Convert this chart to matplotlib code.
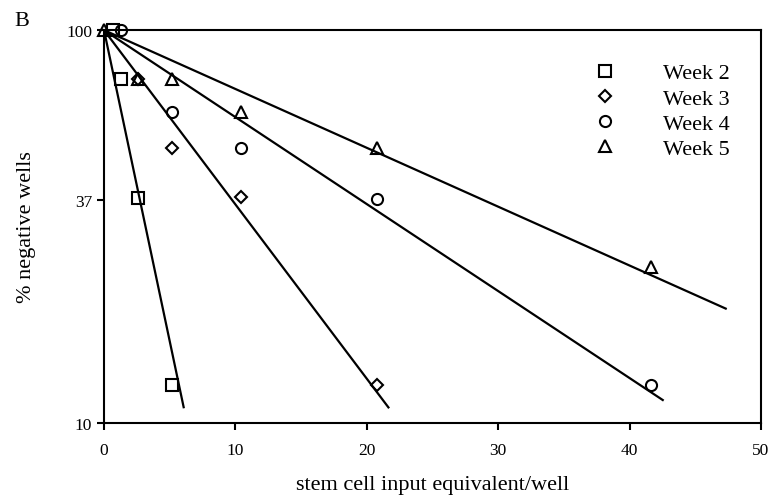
import matplotlib
matplotlib.use("Agg")
import matplotlib.pyplot as plt

plt.rcParams['font.family'] = ['Liberation Serif', 'DejaVu Serif']

# data
labels = ["Week 2", "Week 3", "Week 4", "Week 5"]
markers = ["s", "D", "o", "^"]
x_week2 = [0.65, 1.3, 2.6, 5.2]
y_week2 = [100, 75, 37.4, 12.5]
x_week3 = [2.6, 5.2, 10.4, 20.8]
y_week3 = [75, 50, 37.5, 12.5]
x_week4 = [1.3, 5.2, 10.4, 20.8, 41.6]
y_week4 = [100, 62, 50, 37.2, 12.5]
x_week5 = [0, 2.6, 5.2, 10.4, 20.8, 41.6]
y_week5 = [100, 75, 75, 62, 50, 25]
# fitted lines: start at (0, 100), end points
line_end_x = [6.08, 21.7, 42.6, 47.4]
line_end_y = [10.9, 10.9, 11.4, 19.5]
xticks = [0, 10, 20, 30, 40, 50]
yticks = [10, 37, 100]

xs = [x_week2, x_week3, x_week4, x_week5]
ys = [y_week2, y_week3, y_week4, y_week5]
msizes = [8, 6.5, 8, 8]

fig = plt.figure(figsize=(7.78, 5.02), dpi=100)
ax = fig.add_axes([0.1337, 0.1554, 0.978 - 0.1337, 0.938 - 0.1554])
ax.set_yscale('log')

for i in range(4):
    ax.plot([0, line_end_x[i]], [100, line_end_y[i]], color='black', lw=1.6,
            solid_capstyle='butt', zorder=2)

handles = []
for i in range(4):
    h, = ax.plot(xs[i], ys[i], linestyle='none', marker=markers[i],
                 markersize=msizes[i], markerfacecolor='none',
                 markeredgecolor='black', markeredgewidth=1.5,
                 clip_on=False, zorder=3, label=labels[i])
    handles.append(h)

ax.set_xlim(0, 50)
ax.set_ylim(10, 100)
ax.set_xticks(xticks)
ax.set_xticklabels([str(t) for t in xticks])
ax.set_yticks(yticks)
ax.set_yticklabels([str(t) for t in yticks])
ax.yaxis.set_minor_locator(matplotlib.ticker.NullLocator())
ax.tick_params(axis='both', direction='out', length=5, width=1.5,
               labelsize=12.5, colors='black')
ax.tick_params(axis='x', pad=9)
for s in ax.spines.values():
    s.set_linewidth(1.5)

ax.set_xlabel("stem cell input equivalent/well", fontsize=16, labelpad=12)
ax.set_ylabel("% negative wells", fontsize=16, labelpad=22)

leg = ax.legend(handles=handles, loc='upper left',
                bbox_to_anchor=(0.746, 0.917), frameon=False,
                fontsize=16, handlelength=1.0, handletextpad=2.1,
                labelspacing=0.21, borderaxespad=0, borderpad=0,
                numpoints=1)

fig.text(22 / 778, 1 - 21 / 502, "B", fontsize=16, va='center', ha='center')

fig.savefig("out.png", dpi=100)
